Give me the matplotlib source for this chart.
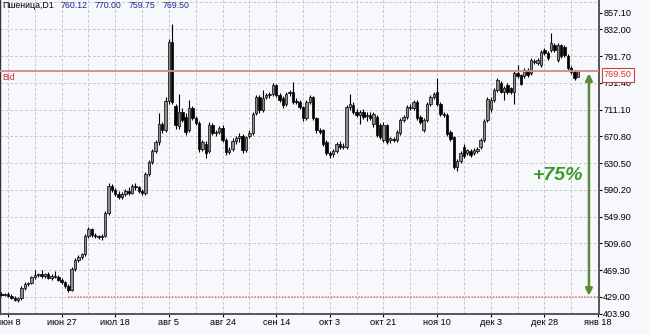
import numpy as np
import matplotlib.pyplot as plt

# ----------------------------------------------------------------------
# Data
# ----------------------------------------------------------------------

symbol = 'Пшеница,D1'
last_ohlc = ['760.12', '770.00', '759.75', '769.50']

opens = [433, 432, 433, 431, 427, 425, 427, 443, 448, 450,
         459, 462, 463, 461, 463, 458, 461, 459, 455, 451,
         445, 440, 471, 485, 489, 493, 521, 531, 522, 521,
         519, 521, 556, 596, 590, 584, 579, 584, 589, 586,
         596, 594, 589, 585, 614, 632, 649, 662, 690, 680,
         724, 813, 716, 686, 707, 700, 680, 713, 699, 691,
         652, 660, 648, 688, 676, 677, 684, 666, 647, 652,
         664, 668, 672, 650, 671, 676, 706, 730, 710, 730,
         733, 734, 748, 733, 728, 719, 737, 738, 724, 723,
         715, 698, 723, 730, 698, 680, 680, 663, 645, 644,
         648, 660, 655, 655, 715, 718, 708, 703, 708, 701,
         703, 690, 700, 688, 665, 688, 666, 667, 665, 676,
         695, 700, 715, 713, 723, 700, 680, 695, 720, 730,
         738, 720, 705, 703, 677, 670, 625, 633, 655, 645,
         648, 645, 648, 655, 665, 695, 712, 725, 740, 751,
         738, 748, 743, 738, 766, 763, 761, 771, 766, 783,
         781, 778, 801, 796, 801, 808, 785, 808, 806, 791,
         773, 768, 760.12]
highs = [436, 435, 436, 433, 430, 429, 446, 451, 452, 461,
         470, 465, 470, 465, 466, 463, 468, 462, 458, 453,
         448, 474, 488, 492, 495, 524, 534, 533, 525, 523,
         524, 559, 600, 599, 593, 588, 587, 592, 594, 599,
         600, 596, 591, 617, 635, 652, 665, 706, 693, 730,
         818, 840, 720, 735, 714, 706, 726, 717, 702, 694,
         665, 664, 692, 691, 680, 687, 688, 669, 654, 668,
         672, 676, 674, 672, 681, 708, 733, 733, 741, 736,
         738, 751, 750, 736, 731, 738, 740, 753, 728, 726,
         717, 726, 733, 732, 700, 684, 682, 665, 649, 651,
         663, 664, 661, 718, 734, 722, 712, 711, 712, 707,
         708, 708, 703, 691, 692, 690, 670, 670, 681, 698,
         703, 718, 719, 726, 726, 703, 698, 723, 733, 738,
         758, 723, 708, 706, 680, 672, 636, 648, 660, 652,
         652, 653, 655, 668, 697, 730, 730, 743, 758, 754,
         746, 751, 745, 769, 778, 765, 773, 774, 789, 787,
         789, 801, 804, 799, 826, 811, 811, 810, 808, 794,
         776, 771, 770.00]
lows = [430, 430, 429, 426, 423, 422, 425, 440, 445, 448,
        456, 459, 458, 457, 456, 455, 457, 453, 449, 443,
        437, 438, 468, 482, 486, 490, 518, 519, 518, 516,
        515, 519, 553, 587, 581, 576, 576, 581, 583, 584,
        590, 586, 582, 583, 611, 629, 646, 658, 676, 677,
        720, 720, 682, 682, 692, 673, 678, 696, 688, 647,
        649, 638, 645, 673, 672, 674, 663, 642, 644, 648,
        659, 662, 646, 647, 668, 673, 703, 706, 707, 727,
        729, 731, 730, 722, 714, 716, 732, 720, 719, 712,
        694, 695, 719, 695, 676, 675, 657, 642, 638, 640,
        645, 652, 651, 652, 711, 704, 700, 690, 697, 694,
        695, 685, 670, 667, 662, 660, 661, 662, 662, 673,
        692, 697, 710, 710, 695, 689, 677, 692, 717, 727,
        717, 702, 700, 672, 664, 622, 619, 630, 638, 642,
        640, 642, 645, 651, 662, 692, 708, 722, 737, 736,
        725, 735, 735, 720, 758, 748, 758, 760, 763, 779,
        778, 775, 793, 786, 798, 798, 782, 788, 790, 770,
        764, 755, 759.75]
closes = [432, 433, 431, 427, 425, 427, 443, 448, 450, 459,
          462, 463, 461, 463, 458, 461, 459, 455, 451, 445,
          440, 471, 485, 489, 493, 521, 531, 522, 521, 519,
          521, 556, 596, 590, 584, 579, 584, 589, 586, 596,
          594, 589, 585, 614, 632, 649, 662, 690, 680, 724,
          813, 723, 688, 707, 696, 677, 714, 699, 691, 651,
          662, 645, 688, 676, 677, 684, 666, 647, 650, 664,
          668, 672, 650, 670, 676, 705, 730, 710, 728, 733,
          735, 748, 733, 726, 718, 735, 736, 723, 723, 715,
          698, 723, 730, 698, 680, 678, 660, 645, 643, 648,
          660, 655, 657, 715, 720, 708, 703, 708, 700, 703,
          698, 705, 673, 670, 688, 663, 668, 665, 678, 695,
          700, 715, 713, 723, 698, 692, 695, 720, 730, 735,
          720, 705, 703, 675, 667, 625, 633, 645, 641, 650,
          643, 650, 652, 665, 694, 727, 726, 740, 755, 738,
          743, 738, 738, 766, 761, 750, 771, 763, 786, 784,
          786, 798, 796, 788, 811, 801, 808, 791, 793, 773,
          768, 758, 769.50]

date_labels = ['июн 8', 'июн 27', 'июл 18', 'авг 5', 'авг 24', 'сен 14',
               'окт 3', 'окт 21', 'ноя 10', 'дек 3', 'дек 28', 'янв 18']
price_ticks = [403.90, 429.00, 469.30, 509.60, 549.90, 590.20, 630.50,
               670.80, 711.10, 751.40, 791.70, 832.00, 857.10]
grid_levels = [429.00, 469.30, 509.60, 549.90, 590.20, 630.50, 670.80,
               711.10, 751.40, 791.70, 832.00, 872.30]
bid = 769.50
base_level = 429.00
rally_start = 20
gain_label = '+75%'

# ----------------------------------------------------------------------
# Plot
# ----------------------------------------------------------------------

plt.rcParams['font.family'] = ['Liberation Sans', 'DejaVu Sans']

bg = '#f6f8fc'
fig = plt.figure(figsize=(6.5, 3.34), dpi=100, facecolor=bg)
ax = fig.add_axes([0.0, 20 / 334, 599 / 650, 314 / 334], facecolor=bg)

o = np.array(opens, dtype=float)
h = np.array(highs, dtype=float)
l = np.array(lows, dtype=float)
c = np.array(closes, dtype=float)
x = np.arange(len(c))

xmin, xmax = -0.39, 178.3
ax.set_xlim(xmin, xmax)
ax.set_ylim(403.4, 876.0)

# grid
for g in grid_levels:
    ax.axhline(g, color='#c8c8c8', lw=0.7, ls=(0, (3, 2)), zorder=1)
for gx in np.arange(2, 178, 8):
    ax.axvline(gx, color='#c8c8c8', lw=0.7, ls=(0, (3, 2)), zorder=1)

# candles
up = c >= o
body_lo = np.minimum(o, c)
body_h = np.maximum(np.abs(c - o), 0.8)
ax.vlines(x, l, h, color='black', lw=0.8, zorder=3)
ax.bar(x[up], body_h[up], bottom=body_lo[up], width=0.72,
       color='#8e8e8e', edgecolor='black', lw=0.5, zorder=4)
ax.bar(x[~up], body_h[~up], bottom=body_lo[~up], width=0.72,
       color='black', edgecolor='black', lw=0.5, zorder=4)

# bid line
ax.axhline(bid, color='#d98a8a', lw=1.3, zorder=5)
ax.text(0.3, bid - 3, 'Bid', color='#d03030', fontsize=6.2,
        va='top', ha='left', zorder=6)
ax.annotate(f'{bid:.2f}', xy=(1.0, bid), xycoords=('axes fraction', 'data'),
            xytext=(3.5, -3), textcoords='offset points', fontsize=6.6,
            color='#d03030', va='center', ha='left', annotation_clip=False,
            bbox=dict(boxstyle='square,pad=0.25', fc='white', ec='#d04040', lw=0.8),
            zorder=10)

# dotted line at the level where the rally started
ax.hlines(base_level, rally_start, xmax - 0.3, color='#ee7070', lw=1.1,
          ls=(0, (1, 1)), zorder=2)

# growth arrow
arrow_x = 175.3
ax.annotate('', xy=(arrow_x, c[-1] - 4), xytext=(arrow_x, base_level + 2),
            arrowprops=dict(arrowstyle='<|-|>', color='#5b8c35', lw=1.8,
                            mutation_scale=10, shrinkA=0, shrinkB=0),
            zorder=7)
ax.text(166, 612, gain_label, color='#3a9a22', fontsize=14,
        fontweight='bold', style='italic', ha='center', va='center', zorder=7)

# axes and ticks
ax.yaxis.tick_right()
ax.set_yticks(price_ticks)
ax.set_yticklabels([f'{v:.2f}' for v in price_ticks])
ax.set_xticks(np.arange(2, 179, 16))
ax.set_xticklabels(date_labels)
ax.tick_params(axis='y', length=2.2, width=0.8, pad=0.8, labelsize=6.6,
               colors='black')
ax.tick_params(axis='x', length=2.2, width=0.8, pad=1.0, labelsize=6.6,
               colors='black')
for s in ['right', 'bottom']:
    ax.spines[s].set_color('#555555')
    ax.spines[s].set_linewidth(1.4)
ax.spines['left'].set_color('#333333')
ax.spines['left'].set_linewidth(1.0)
ax.spines['top'].set_visible(False)

# header
fig.text(2 / 650, 1 - 6 / 334, symbol, fontsize=6.3, color='black',
         va='center', ha='left')
for i, s in enumerate(last_ohlc):
    fig.text((61 + 34 * i) / 650, 1 - 6 / 334, s, fontsize=6.3,
             color='#1c2a8a', va='center', ha='left')

fig.savefig('out.png', dpi=100, facecolor=bg)
